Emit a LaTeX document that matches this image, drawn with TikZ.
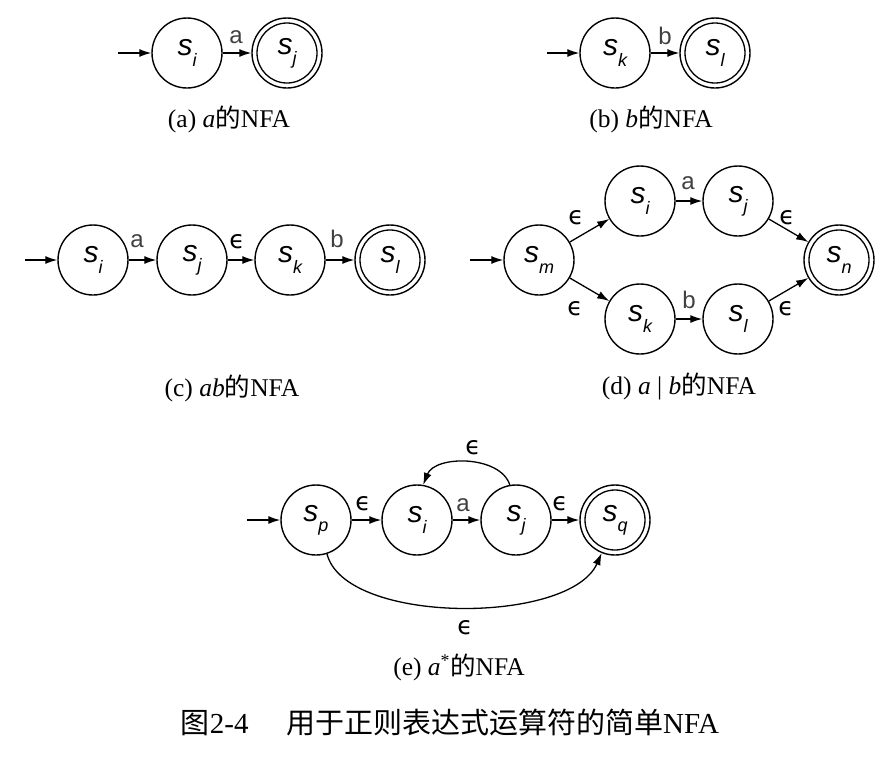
\documentclass[tikz,border=0pt]{standalone}
\usepackage{fontspec}
\setmainfont{Liberation Serif}
\setsansfont{Liberation Sans}
\newfontfamily\cjk{Noto Sans CJK SC}
\newfontfamily\dejavu{DejaVu Sans}
\usetikzlibrary{arrows.meta}
\newcommand\stsub[1]{\raisebox{-0.34em}{\fontsize{18}{18}\selectfont #1}}
\newcommand\eps{{\dejavu ϵ}}
\begin{document}
\begin{tikzpicture}[x=1pt,y=-1pt,
  stnode/.style={circle,draw,line width=1.4pt,minimum size=70pt,inner sep=0pt,
    font=\fontsize{30}{30}\selectfont\sffamily\itshape},
  conn/.style={line width=1.3pt,-{Latex[length=12pt,width=8pt]}},
  lbl/.style={font=\fontsize{24}{24}\selectfont\sffamily,text=black!75,inner sep=0pt},
  epslbl/.style={font=\fontsize{25}{25}\selectfont,inner sep=0pt},
  captext/.style={font=\fontsize{25.5}{25.5}\selectfont,inner sep=0pt},
  ring/.style={line width=1.3pt}
]
\useasboundingbox (0,0) rectangle (889,761);

% (a)
\coordinate (a0) at (118,53);
\node[stnode] (asi) at (187,53) {s\stsub{i}};
\node[stnode] (asj) at (287,53) {s\stsub{j}};
\draw[ring] (asj) circle (30pt);
\draw[conn] (a0) -- (asi);
\draw[conn] (asi) -- (asj);
\node[lbl] (la) at (236,37) {a};
\node[captext] (capa) at (229,119) {(a) \textit{a}{\cjk 的}NFA};

% (b)
\coordinate (b0) at (547,53);
\node[stnode] (bsk) at (615,53) {s\stsub{k}};
\node[stnode] (bsl) at (715,53) {s\stsub{l}};
\draw[ring] (bsl) circle (30pt);
\draw[conn] (b0) -- (bsk);
\draw[conn] (bsk) -- (bsl);
\node[lbl] (lb) at (665,36) {b};
\node[captext] (capb) at (651,119) {(b) \textit{b}{\cjk 的}NFA};

% (c)
\coordinate (c0) at (25,260);
\node[stnode] (csi) at (93,260) {s\stsub{i}};
\node[stnode] (csj) at (192,260) {s\stsub{j}};
\node[stnode] (csk) at (290,260) {s\stsub{k}};
\node[stnode] (csl) at (390,260) {s\stsub{l}};
\draw[ring] (csl) circle (30pt);
\draw[conn] (c0) -- (csi);
\draw[conn] (csi) -- (csj);
\draw[conn] (csj) -- (csk);
\draw[conn] (csk) -- (csl);
\node[lbl] (lca) at (137,241) {a};
\node[epslbl] (lce) at (237,242) {\eps};
\node[lbl] (lcb) at (337,239) {b};
\node[captext] (capc) at (232,388) {(c) \textit{ab}{\cjk 的}NFA};

% (d)
\coordinate (d0) at (470,260);
\node[stnode] (dsm) at (539,260) {s\stsub{m}};
\node[stnode] (dsi) at (640,201) {s\stsub{i}};
\node[stnode] (dsj) at (738,201) {s\stsub{j}};
\node[stnode] (dsk) at (640,319) {s\stsub{k}};
\node[stnode] (dsl) at (738,319) {s\stsub{l}};
\node[stnode] (dsn) at (839,260) {s\stsub{n}};
\draw[ring] (dsn) circle (30pt);
\draw[conn] (d0) -- (dsm);
\draw[conn] (dsm) -- (dsi);
\draw[conn] (dsi) -- (dsj);
\draw[conn] (dsj) -- (dsn);
\draw[conn] (dsm) -- (dsk);
\draw[conn] (dsk) -- (dsl);
\draw[conn] (dsl) -- (dsn);
\node[epslbl] (lde1) at (576,218) {\eps};
\node[lbl] (lda) at (688,183) {a};
\node[epslbl] (lde2) at (787,218) {\eps};
\node[epslbl] (lde3) at (575,309) {\eps};
\node[lbl] (ldb) at (689,300) {b};
\node[epslbl] (lde4) at (786,309) {\eps};
\node[captext] (capd) at (679,386) {(d) \textit{a} | \textit{b}{\cjk 的}NFA};

% (e)
\coordinate (e0) at (247,520);
\node[stnode] (esp) at (316,520) {s\stsub{p}};
\node[stnode] (esi) at (417,520) {s\stsub{i}};
\node[stnode] (esj) at (516,520) {s\stsub{j}};
\node[stnode] (esq) at (615,520) {s\stsub{q}};
\draw[ring] (esq) circle (30pt);
\draw[conn] (e0) -- (esp);
\draw[conn] (esp) -- (esi);
\draw[conn] (esi) -- (esj);
\draw[conn] (esj) -- (esq);
\draw[conn] (esj.100) .. controls (500,455) and (435,455) .. (esi.80);
\draw[conn] (esp.-72) .. controls (345,625) and (570,625) .. (esq.-112);
\node[epslbl] (lee1) at (363,504) {\eps};
\node[lbl] (lea) at (463,505) {a};
\node[epslbl] (lee2) at (560,504) {\eps};
\node[epslbl] (lee3) at (473,448) {\eps};
\node[epslbl] (lee4) at (465,628) {\eps};
\node[captext] (cape) at (459,667) {(e) \textit{a}\textsuperscript{*}{\cjk 的}NFA};

% main caption
\node[inner sep=0pt,font=\fontsize{29}{29}\selectfont] (title) at (450,722)
  {{\cjk 图}2-4\hspace{1.3em}{\cjk 用于正则表达式运算符的简单}NFA};
\end{tikzpicture}
\end{document}
